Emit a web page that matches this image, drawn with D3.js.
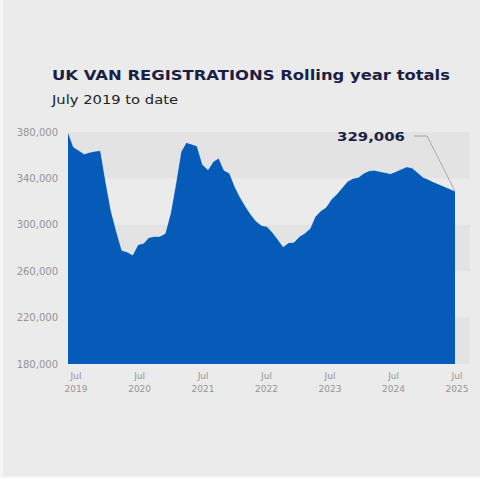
<!DOCTYPE html>
<html>
<head>
<meta charset="utf-8">
<script src="https://cdn.jsdelivr.net/npm/d3@7"></script>
<style>
  body { margin: 0; background: #f5f5f5; }
  text { font-family: "DejaVu Sans", sans-serif; }
</style>
</head>
<body>
<div id="chart"></div>
<script>
// rolling year totals, monthly from Jul 2019
var startMonth = "2019-07";
var registrations = [
  380000, 367000, 364000, 361000, 362500, 363500, 364000, 336000, 312000, 294000,
  278000, 276500, 274000, 283000, 284000, 289000, 290000, 290000, 292500, 310000,
  334000, 363000, 371000, 369500, 368000, 352000, 347500, 354500, 357500, 347000,
  344500, 332500, 324000, 316000, 309000, 303000, 299500, 298500, 293500, 287500,
  281000, 284500, 285000, 290000, 292500, 296500, 307000, 312000, 315000, 322000,
  326500, 332000, 337500, 340000, 341000, 344500, 346500, 347000, 346000, 345000,
  344000, 346000, 348000, 350000, 349000, 345000, 341000, 339000, 337000, 335000,
  333000, 331000, 329006
];
var yTicks = [180000, 220000, 260000, 300000, 340000, 380000];
var xTickYears = [2019, 2020, 2021, 2022, 2023, 2024, 2025];
var lastLabel = "329,006";

var svgWidth = 480;
var svgHeight = 478;

var svg = d3.select("#chart")
  .append("svg")
  .attr("width", svgWidth)
  .attr("height", svgHeight);

// panel background
svg.append("rect")
  .attr("x", 3).attr("y", 0)
  .attr("width", svgWidth - 3).attr("height", svgHeight - 2)
  .attr("fill", "#ebebeb");

var parseMonth = d3.timeParse("%Y-%m");
var t0 = parseMonth(startMonth);
var data = registrations.map(function(v, i) {
  return { date: d3.timeMonth.offset(t0, i), value: v };
});

var xScale = d3.scaleTime()
  .domain(d3.extent(data, d => d.date))
  .range([68, 455]);

var yScale = d3.scaleLinear()
  .domain([180000, 380000])
  .range([364, 132]);

// alternating bands between gridlines
var bands = [];
for (var i = 0; i < yTicks.length - 1; i += 2) {
  bands.push([yTicks[yTicks.length - 1 - i], yTicks[yTicks.length - 2 - i]]);
}
svg.selectAll("rect.band")
  .data(bands)
  .enter()
  .append("rect")
  .attr("class", "band")
  .attr("x", 68)
  .attr("width", 470 - 68)
  .attr("y", d => yScale(d[0]))
  .attr("height", d => yScale(d[1]) - yScale(d[0]))
  .attr("fill", "#e3e3e3");

// area
var area = d3.area()
  .x(d => xScale(d.date))
  .y0(yScale(180000))
  .y1(d => yScale(d.value));

svg.append("path")
  .datum(data)
  .attr("d", area)
  .attr("fill", "#065bb9");

var line = d3.line()
  .x(d => xScale(d.date))
  .y(d => yScale(d.value));

svg.append("path")
  .datum(data)
  .attr("d", line)
  .attr("fill", "none")
  .attr("stroke", "#ffffff")
  .attr("stroke-opacity", 0.55)
  .attr("stroke-width", 1);

// y axis labels
svg.selectAll("text.ylab")
  .data(yTicks)
  .enter()
  .append("text")
  .attr("class", "ylab")
  .attr("x", 58)
  .attr("y", d => yScale(d) + 3.5)
  .attr("text-anchor", "end")
  .attr("font-size", 10)
  .attr("fill", "#959595")
  .text(d => d3.format(",")(d));

// x axis labels (Jul of each year)
var xLab = svg.selectAll("g.xlab")
  .data(xTickYears)
  .enter()
  .append("g")
  .attr("class", "xlab")
  .attr("transform", d => `translate(${xScale(new Date(d, 6, 1)) + 8 - (d - 2019)}, 0)`);

xLab.append("text")
  .attr("y", 379)
  .attr("text-anchor", "middle")
  .attr("font-size", 9)
  .attr("fill", "#959595")
  .text("Jul");

xLab.append("text")
  .attr("y", 392)
  .attr("text-anchor", "middle")
  .attr("font-size", 9)
  .attr("fill", "#959595")
  .text(d => d);

// annotation for latest value
var last = data[data.length - 1];
svg.append("polyline")
  .attr("points", `414,136 427,136 ${xScale(last.date)},${yScale(last.value)}`)
  .attr("fill", "none")
  .attr("stroke", "#9a9a9a")
  .attr("stroke-width", 0.8);

svg.append("text")
  .attr("x", 337)
  .attr("y", 141)
  .attr("font-size", 12.5)
  .attr("font-weight", "bold")
  .attr("fill", "#1c1f45")
  .attr("textLength", 68)
  .attr("lengthAdjust", "spacingAndGlyphs")
  .text(lastLabel);

// titles
svg.append("text")
  .attr("x", 52)
  .attr("y", 80)
  .attr("font-size", 14)
  .attr("font-weight", "bold")
  .attr("fill", "#1c1f45")
  .attr("textLength", 398)
  .attr("lengthAdjust", "spacingAndGlyphs")
  .text("UK VAN REGISTRATIONS Rolling year totals");

svg.append("text")
  .attr("x", 52)
  .attr("y", 104)
  .attr("font-size", 13)
  .attr("fill", "#222222")
  .attr("textLength", 126)
  .attr("lengthAdjust", "spacingAndGlyphs")
  .text("July 2019 to date");
</script>
</body>
</html>
